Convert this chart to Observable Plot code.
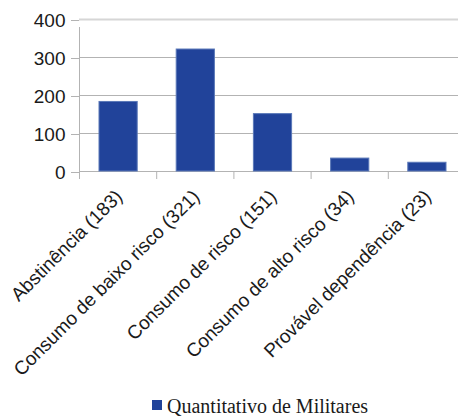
<!DOCTYPE html>
<html>
<head>
<meta charset="utf-8">
<script src="https://cdn.jsdelivr.net/npm/d3@7"></script>
<script src="https://cdn.jsdelivr.net/npm/@observablehq/plot@0.6"></script>
<style>
  html, body { margin: 0; padding: 0; background: #fff; overflow: hidden; }
  #wrap { position: relative; width: 458px; height: 416px; overflow: hidden; }
  #legend-swatch { position: absolute; left: 152px; top: 400px; width: 10px; height: 10px; background: #21439a; }
  #legend-text { position: absolute; left: 167px; top: 396px; font: 20px/20px "Liberation Serif", "Times New Roman", serif; color: #1a1a1a; white-space: nowrap; }
</style>
</head>
<body>
<div id="wrap">
  <div id="chart"></div>
  <div id="legend-swatch"></div>
  <div id="legend-text"></div>
</div>
<script>
const categories = [
  "Abstinência (183)",
  "Consumo de baixo risco (321)",
  "Consumo de risco (151)",
  "Consumo de alto risco (34)",
  "Provável dependência (23)"
];
const values = [183, 321, 151, 34, 23];
const yTicks = [0, 100, 200, 300, 400];
const seriesName = "Quantitativo de Militares";

const data = categories.map((c, i) => ({ category: c, index: i, value: values[i] }));
const boundaries = d3.range(categories.length + 1);

const chart = Plot.plot({
  width: 458,
  height: 392,
  marginLeft: 79,
  marginRight: -7,
  marginTop: 19,
  marginBottom: 221,
  style: { fontFamily: "'Liberation Sans', Arial, sans-serif", fontSize: "19px", color: "#1a1a1a", background: "white", overflow: "hidden" },
  x: { type: "linear", domain: [0, categories.length], axis: null },
  y: { domain: [0, 400], axis: null },
  marks: [
    Plot.gridY(yTicks.slice(0, 4), { stroke: "#b3b3b3", strokeOpacity: 1 }),
    Plot.gridY([400], { stroke: "#d6d6d6", strokeOpacity: 1, strokeWidth: 2 }),
    Plot.axisY({ ticks: yTicks, tickSize: 8, tickPadding: 6, stroke: "#b3b3b3", fill: "#1a1a1a", fontSize: 19, dy: 1, label: null }),
    Plot.axisX({ ticks: boundaries, tickSize: 8, tickFormat: () => "", stroke: "#b3b3b3", label: null }),
    Plot.ruleX([0], { y1: 0, y2: 400, stroke: "#b3b3b3", insetBottom: -8 }),
    Plot.rectY(data, {
      x1: "index",
      x2: d => d.index + 1,
      y: "value",
      fill: "#21439a",
      stroke: "#5a78b8",
      strokeWidth: 1,
      insetLeft: 20,
      insetRight: 19
    }),
    Plot.text(data, {
      x: d => d.index + 0.5,
      text: "category",
      frameAnchor: "bottom",
      rotate: -45,
      textAnchor: "end",
      lineAnchor: "middle",
      dx: 1,
      dy: 22,
      fontSize: 19,
      fill: "#1a1a1a"
    })
  ]
});
document.getElementById("chart").append(chart);
document.getElementById("legend-text").textContent = seriesName;
</script>
</body>
</html>
